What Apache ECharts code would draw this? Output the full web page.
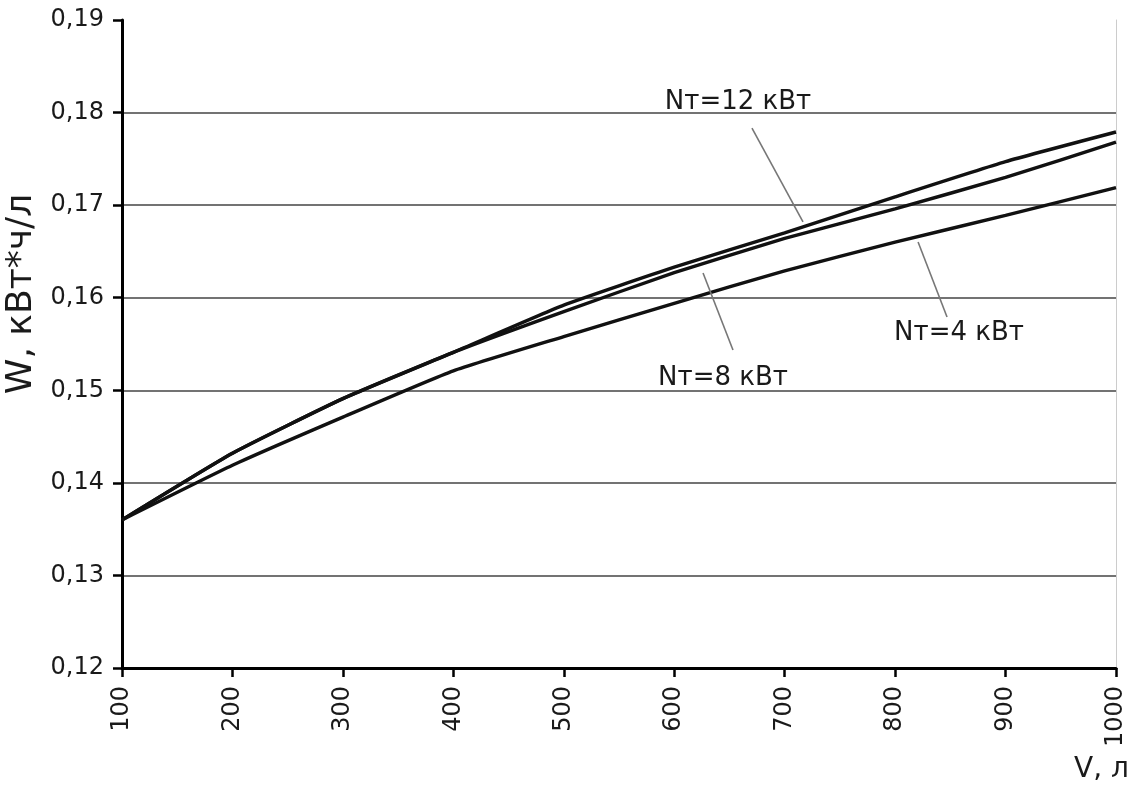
<!DOCTYPE html>
<html>
<head>
<meta charset="utf-8">
<script src="https://cdn.jsdelivr.net/npm/echarts@6/dist/echarts.min.js"></script>
<style>
html,body{margin:0;padding:0;background:#fff;}
#chart{width:1133px;height:789px;}
</style>
</head>
<body>
<div id="chart"></div>
<script>
// ---- data ----
var volumes = [100, 200, 300, 400, 500, 600, 700, 800, 900, 1000];
var seriesNames = ['Nт=12 кВт', 'Nт=8 кВт', 'Nт=4 кВт'];
var w12 = [0.1360, 0.1432, 0.1491, 0.1541, 0.1592, 0.1633, 0.1670, 0.1709, 0.1747, 0.1779];
var w8  = [0.1360, 0.1432, 0.1491, 0.1541, 0.1585, 0.1627, 0.1664, 0.1696, 0.1730, 0.1768];
var w4  = [0.1360, 0.1419, 0.1471, 0.1521, 0.1558, 0.1594, 0.1629, 0.1660, 0.1689, 0.1719];
var xTitle = 'V, л';
var yTitle = 'W, кВт*ч/л';

// annotation placement (data coordinates): label point, leader start, leader end
var annotations = [
  {text: 'Nт=12 кВт', label: [657.8, 0.18114], from: [670.4, 0.17833], to: [716.6, 0.16818]},
  {text: 'Nт=8 кВт',  label: [644.2, 0.15133], from: [653.2, 0.15435], to: [626.1, 0.16267]},
  {text: 'Nт=4 кВт',  label: [857.9, 0.15619], from: [847.0, 0.15792], to: [820.8, 0.16602]}
];

var FONT = 'DejaVu Sans';
function pairs(vals){ return volumes.map(function(v,i){ return [v, vals[i]]; }); }
var allValues = [w12, w8, w4];

var series = allValues.map(function(vals, i){
  var a = annotations[i];
  return {
    name: seriesNames[i],
    type: 'line',
    data: pairs(vals),
    showSymbol: false,
    smooth: 0.15,
    lineStyle: {color: '#111', width: 3.4},
    itemStyle: {color: '#111'},
    z: 3,
    markLine: {
      silent: true,
      symbol: ['none', 'none'],
      lineStyle: {color: '#777', width: 1.6, type: 'solid'},
      label: {show: false},
      data: [[{coord: a.from}, {coord: a.to}]]
    },
    markPoint: {
      silent: true,
      symbol: 'circle',
      symbolSize: 1,
      itemStyle: {color: 'rgba(0,0,0,0)'},
      label: {
        show: true, position: 'inside', formatter: a.text,
        fontFamily: FONT, fontSize: 26, color: '#1a1a1a'
      },
      data: [{coord: a.label, value: a.text}]
    }
  };
});

var chart = echarts.init(document.getElementById('chart'));
chart.setOption({
  backgroundColor: '#fff',
  animation: false,
  grid: {left: 122, right: 17, top: 20, bottom: 121, containLabel: false, outerBoundsMode: 'none'},
  xAxis: {
    type: 'value', min: 100, max: 1000, interval: 100,
    name: xTitle, nameLocation: 'end', nameGap: -42,
    nameTextStyle: {fontFamily: FONT, fontSize: 28, color: '#1a1a1a', align: 'left', verticalAlign: 'top', padding: [88, 0, 0, 0]},
    axisLine: {show: true, lineStyle: {color: '#000', width: 3}},
    axisTick: {show: true, length: 9, lineStyle: {color: '#000', width: 2.5}},
    axisLabel: {rotate: 90, margin: 18, fontFamily: FONT, fontSize: 24, color: '#1a1a1a',
      formatter: function(v){ return String(v); }},
    splitLine: {show: false}
  },
  yAxis: [{
    type: 'value', min: 0.12, max: 0.19, interval: 0.01,
    name: yTitle, nameLocation: 'middle', nameGap: 72,
    nameTextStyle: {fontFamily: FONT, fontSize: 36, color: '#1a1a1a', padding: [0, 0, 0, 100]},
    axisLine: {show: true, lineStyle: {color: '#000', width: 3}},
    axisTick: {show: true, length: 9, lineStyle: {color: '#000', width: 2.5}},
    axisLabel: {margin: 18, fontFamily: FONT, fontSize: 24, color: '#1a1a1a',
      formatter: function(v){ return v.toFixed(2).replace('.', ','); }},
    splitLine: {show: true, lineStyle: {color: '#444', width: 1.6},
      showMinLine: false, showMaxLine: false}
  }, {
    type: 'value', min: 0.12, max: 0.19, interval: 0.01, position: 'right',
    axisLine: {show: true, lineStyle: {color: '#ccc', width: 1}},
    axisTick: {show: false}, axisLabel: {show: false}, splitLine: {show: false}
  }],
  series: series
});
</script>
</body>
</html>
